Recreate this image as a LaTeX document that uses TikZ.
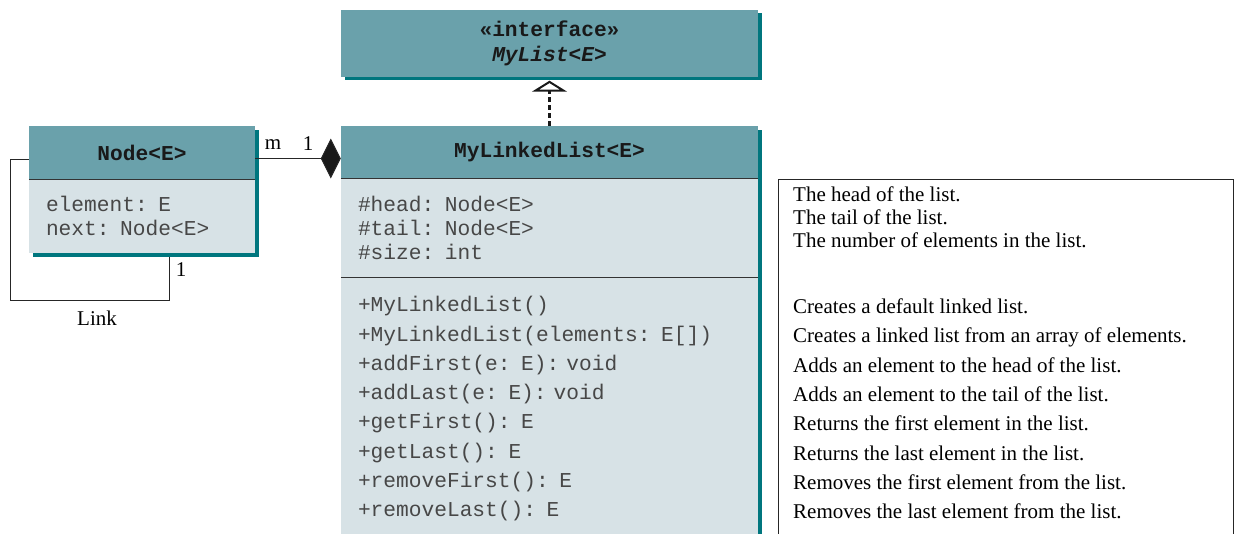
\documentclass[tikz,border=0pt]{standalone}
\usepackage{fontspec}
\setmainfont{Liberation Serif}
\setmonofont[Kerning=Off]{Liberation Mono}
\usepackage{tikz}
\usetikzlibrary{arrows.meta, positioning, shadows}
\definecolor{umlhead}{RGB}{106,161,171}
\definecolor{umlbody}{RGB}{215,226,230}
\definecolor{umlshade}{RGB}{0,118,126}
% full-width spaces in the mono font
\newcommand\monosp{\spaceskip=\fontcharwd\font`x\relax\xspaceskip=\spaceskip}

\begin{document}
\begin{tikzpicture}[x=1pt, y=-1pt, font=\fontsize{21}{24}\selectfont, node distance=0pt,
    shd/.style={drop shadow={shadow xshift=3.5pt, shadow yshift=-3.5pt, fill=umlshade, opacity=1}},
    hd/.style={shd, fill=umlhead, inner sep=0pt, align=center, text=black!90,
      font=\ttfamily\bfseries\fontsize{21.2}{25}\selectfont},
    bd/.style={shd, fill=umlbody, inner xsep=17pt, inner ysep=0pt, align=left, text=black!72},
    sep/.style={draw=black!80, line width=1.2pt},
    ln/.style={draw=black!85, line width=1pt},
    agg/.style={ln, -{Diamond[length=20pt, width=40pt, fill=black!90]}},
    impl/.style={draw=black!90, line width=2.5pt, dash pattern=on 5pt off 3pt,
      -{Triangle[length=11pt, width=35pt, fill=white, line width=2pt]}}]
  \useasboundingbox (0,0) rectangle (1241,533);

  % interface
  \node[hd, minimum width=417pt, minimum height=67pt] (iface) at (549.5,43)
    {«interface»\\\textit{MyList<E>}};

  % linked list class
  \node[hd, minimum width=417pt, minimum height=52pt] (mllh) at (549.5,152) {MyLinkedList<E>};
  \node[bd, below=of mllh, text width=383pt, minimum height=99pt,
    font=\ttfamily\fontsize{21.2}{24}\selectfont\monosp] (mlla)
    {\#head: Node<E>\\\#tail: Node<E>\\\#size: int};
  \node[bd, below=of mlla, text width=383pt, minimum height=262pt,
    font=\ttfamily\fontsize{21.2}{29.3}\selectfont\monosp] (mllm)
    {+MyLinkedList()\\+MyLinkedList(elements: E[])\\+addFirst(e: E): void\\+addLast(e: E): void\\
     +getFirst(): E\\+getLast(): E\\+removeFirst(): E\\+removeLast(): E};
  \draw[sep] (mllh.south west) -- (mllh.south east);
  \draw[sep] (mlla.south west) -- (mlla.south east);

  % node class
  \node[hd, minimum width=226pt, minimum height=53pt] (nodeh) at (142,152.5) {Node<E>};
  \node[bd, below=of nodeh, text width=192pt, minimum height=74pt,
    font=\ttfamily\fontsize{21.2}{24}\selectfont\monosp] (nodeb)
    {element: E\\next: Node<E>};
  \draw[sep] (nodeh.south west) -- (nodeh.south east);

  % descriptions
  \node[draw=black!85, line width=1pt, minimum width=455pt, minimum height=370pt,
    anchor=north west] (descbox) at (778,179) {};
  \node[anchor=west, align=left, inner sep=0pt, font=\fontsize{21}{23}\selectfont] (desca) at (793,217)
    {The head of the list.\\The tail of the list.\\The number of elements in the list.};
  \node[anchor=west, align=left, inner sep=0pt, xshift=15pt, font=\fontsize{21}{29.3}\selectfont] (descm)
    at (descbox.west |- mllm.center)
    {Creates a default linked list.\\Creates a linked list from an array of elements.\\
     Adds an element to the head of the list.\\Adds an element to the tail of the list.\\
     Returns the first element in the list.\\Returns the last element in the list.\\
     Removes the first element from the list.\\Removes the last element from the list.};

  % relations
  \draw[impl] (mllh.north) -- ([yshift=-4pt]iface.south);
  \draw[agg] ([yshift=-6pt]nodeh.east) -- ([yshift=-6pt]nodeh.east -| mllh.west);
  \coordinate (loopc) at (10,300);
  \draw[ln] ([yshift=-7pt]nodeh.west) -| (loopc) -| ([xshift=27pt, yshift=-3.5pt]nodeb.south);
  \node (lm) at (273,145) {m};
  \node (lone) at (308,144) {1};
  \node (ltwo) at (181,270) {1};
  \node (llink) at (97,318) {Link};
\end{tikzpicture}
\end{document}
